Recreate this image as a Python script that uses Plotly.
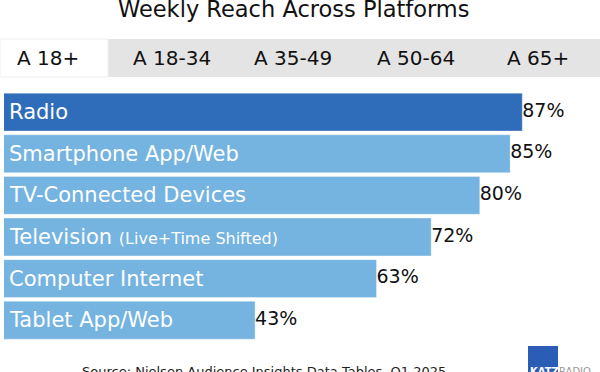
import plotly.graph_objects as go

title = "Weekly Reach Across Platforms"
tabs = ["A 18+", "A 18-34", "A 35-49", "A 50-64", "A 65+"]
tab_centers = [48, 172, 293, 416, 538]
platforms = ["Radio", "Smartphone App/Web", "TV-Connected Devices",
             "Television <span style='font-size:16px'>(Live+Time Shifted)</span>",
             "Computer Internet", "Tablet App/Web"]
reach = [87, 85, 80, 72, 63, 43]
source = "Source: Nielsen Audience Insights Data Tables, Q1 2025"

W, H = 600, 372
FONT = "DejaVu Sans"
dark = "#2F6DBB"
light = "#75B3E0"
colors = [dark] + [light] * (len(reach) - 1)

def py(p):
    return 1 - p / H

def px(p):
    return p / W

fig = go.Figure()
fig.add_trace(go.Bar(
    x=reach, y=platforms, orientation="h",
    marker=dict(color=colors, line=dict(color="rgba(255,255,255,0.35)", width=1)),
    hoverinfo="skip", showlegend=False,
))
fig.add_trace(go.Scatter(
    x=reach, y=platforms, mode="text",
    text=[f"{v}%" for v in reach], textposition="middle right",
    textfont=dict(family=FONT, size=19, color="#111111"),
    hoverinfo="skip", showlegend=False, cliponaxis=False,
))

annotations = []
for name in platforms:
    annotations.append(dict(
        x=0, xref="paper", y=name, yref="y", xanchor="left", yanchor="middle",
        xshift=7, text=name, showarrow=False,
        font=dict(family=FONT, size=21, color="white"),
    ))
annotations.append(dict(
    x=px(294), y=py(9), xref="paper", yref="paper", text=title, showarrow=False,
    xanchor="center", yanchor="middle", font=dict(family=FONT, size=22.5, color="#111111"),
))
for t, c in zip(tabs, tab_centers):
    annotations.append(dict(
        x=px(c), y=py(58), xref="paper", yref="paper", text=t, showarrow=False,
        xanchor="center", yanchor="middle", font=dict(family=FONT, size=20, color="#111111"),
    ))
annotations.append(dict(
    x=px(264), y=py(371), xref="paper", yref="paper", text=source, showarrow=False,
    xanchor="center", yanchor="middle", font=dict(family=FONT, size=13, color="#222222"),
))
annotations.append(dict(
    x=px(528), y=py(364), xref="paper", yref="paper", text="<b>KATZ</b>", showarrow=False,
    xanchor="left", yanchor="top", font=dict(family=FONT, size=10, color="white"),
))
annotations.append(dict(
    x=px(557), y=py(364), xref="paper", yref="paper", text="RADIO", showarrow=False,
    xanchor="left", yanchor="top", font=dict(family=FONT, size=10, color="#9A9A9A"),
))

shapes = [
    dict(type="rect", xref="paper", yref="paper", x0=0, x1=1, y0=py(77), y1=py(39),
         fillcolor="#E4E4E4", line=dict(width=0), layer="below"),
    dict(type="rect", xref="paper", yref="paper", x0=0, x1=px(108), y0=py(77), y1=py(39),
         fillcolor="white", line=dict(color="#EEEEEE", width=1), layer="below"),
    dict(type="rect", xref="paper", yref="paper", x0=px(528), x1=px(558), y0=py(380), y1=py(346),
         fillcolor="#2B5DB7", line=dict(width=0), layer="below"),
]

fig.update_layout(
    width=W, height=H, margin=dict(l=0, r=0, t=0, b=0),
    paper_bgcolor="white", plot_bgcolor="white",
    bargap=0.09,
    xaxis=dict(range=[1.65, 99.8], domain=[px(4), 1], visible=False, fixedrange=True),
    yaxis=dict(autorange="reversed", domain=[py(341), py(91.3)], visible=False,
               type="category", fixedrange=True),
    annotations=annotations, shapes=shapes,
)
fig.write_html("out.html", config={"displayModeBar": False},
               post_script="document.body.style.margin='0';document.body.style.overflow='hidden';")
